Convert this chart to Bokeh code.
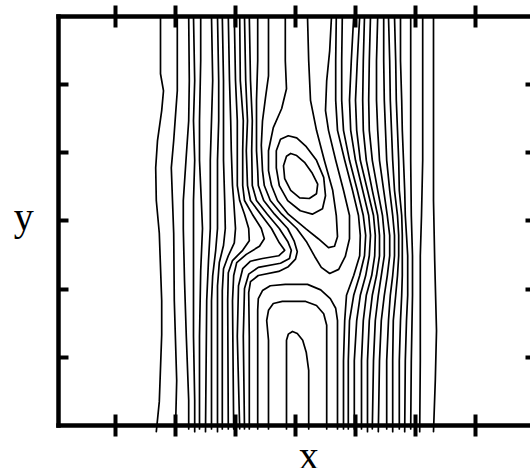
from bokeh.plotting import figure
from bokeh.models import Range1d, LinearAxis, FixedTicker
from bokeh.core.properties import value
from bokeh.embed import file_html
from bokeh.resources import INLINE

# Tick positions (no tick labels are printed) and axis names
x_ticks = [1, 2, 3, 4, 5, 6, 7]
y_ticks = [1, 2, 3, 4, 5]
x_name = "x"
y_name = "y"

# Isolines west of the eddy, running from the top edge to the bottom edge
west_lines = [
    [(1.75, 6.00), (1.75, 5.16), (1.80, 4.91), (1.77, 4.62), (1.70, 4.18), (1.67, 3.78), (1.68, 3.30), (1.73, 2.82), (1.77, 1.83), (1.77, 1.33), (1.73, 0.35), (1.68, -0.09)],
    [(2.03, 6.00), (2.03, 4.91), (2.00, 4.55), (1.97, 4.18), (1.93, 3.78), (1.95, 3.30), (1.97, 2.82), (1.98, 1.83), (2.02, 0.66), (2.00, -0.05)],
    [(2.22, 6.00), (2.23, 5.06), (2.22, 4.47), (2.18, 3.96), (2.13, 3.30), (2.13, 2.89), (2.15, 2.13), (2.18, 1.31), (2.22, 0.37), (2.22, -0.05)],
    [(2.30, 6.00), (2.32, 5.06), (2.30, 4.47), (2.32, 3.89), (2.30, 3.30), (2.30, 2.89), (2.30, 2.13), (2.30, 1.31), (2.32, 0.37), (2.32, -0.09)],
    [(2.42, 6.00), (2.42, 5.35), (2.40, 4.47), (2.40, 3.89), (2.43, 3.30), (2.45, 2.89), (2.42, 2.27), (2.40, 1.31), (2.40, -0.05)],
    [(2.60, 6.00), (2.62, 5.06), (2.60, 4.47), (2.58, 3.89), (2.58, 3.30), (2.58, 2.89), (2.55, 2.42), (2.52, 1.83), (2.50, -0.09)],
    [(2.70, 6.00), (2.72, 5.06), (2.72, 4.47), (2.70, 3.89), (2.70, 3.30), (2.70, 2.89), (2.67, 2.57), (2.62, 2.20), (2.60, 1.83), (2.60, -0.05)],
    [(2.78, 6.00), (2.80, 5.06), (2.80, 4.47), (2.80, 3.89), (2.82, 3.30), (2.83, 2.89), (2.80, 2.64), (2.73, 2.39), (2.70, 2.05), (2.70, -0.09)],
    [(2.88, 6.00), (2.90, 5.06), (2.92, 4.47), (2.93, 4.03), (2.95, 3.52), (2.97, 3.30), (3.00, 2.89), (2.98, 2.68), (2.88, 2.49), (2.80, 2.30), (2.78, 1.98), (2.78, -0.05)],
    [(2.98, 6.00), (3.00, 5.06), (3.03, 4.47), (3.03, 4.03), (3.03, 3.52), (3.07, 3.30), (3.15, 3.10), (3.22, 2.89), (3.23, 2.71), (3.12, 2.57), (2.95, 2.42), (2.88, 2.24), (2.87, 1.83), (2.88, -0.05)],
    [(3.07, 6.00), (3.08, 5.06), (3.13, 4.47), (3.12, 4.03), (3.12, 3.52), (3.15, 3.30), (3.28, 3.10), (3.43, 2.89), (3.48, 2.74), (3.40, 2.63), (3.18, 2.51), (3.02, 2.39), (2.97, 2.20), (2.95, 1.83), (2.97, -0.05)],
]

# Isolines folded into a tongue under the eddy
tongue_lines = [
    [(3.15, 6.00), (3.17, 5.06), (3.20, 4.47), (3.18, 4.03), (3.20, 3.52), (3.25, 3.30), (3.42, 3.10), (3.60, 2.89), (3.73, 2.68), (3.82, 2.57), (3.72, 2.49), (3.45, 2.45), (3.25, 2.41), (3.12, 2.30), (3.05, 2.05), (3.03, 1.31), (3.07, -0.05)],
    [(3.23, 6.00), (3.25, 5.06), (3.28, 4.47), (3.27, 4.03), (3.28, 3.52), (3.35, 3.30), (3.53, 3.10), (3.73, 2.89), (3.87, 2.70), (3.93, 2.57), (3.90, 2.45), (3.75, 2.38), (3.38, 2.32), (3.22, 2.22), (3.15, 2.01), (3.13, 1.31), (3.15, -0.05)],
    [(3.37, 6.00), (3.37, 5.35), (3.35, 4.77), (3.35, 4.40), (3.35, 4.03), (3.37, 3.74), (3.38, 3.52), (3.47, 3.30), (3.65, 3.10), (3.87, 2.89), (3.98, 2.70), (4.03, 2.55), (4.00, 2.44), (3.88, 2.33), (3.72, 2.26), (3.38, 2.20), (3.25, 2.11), (3.22, 1.95), (3.23, 1.31), (3.23, -0.05)],
]

# Isolines entering and leaving through the top edge, wrapped round the eddy
wrap_lines = [
    [(3.55, 6.00), (3.55, 5.13), (3.50, 4.81), (3.45, 4.47), (3.43, 4.11), (3.45, 3.74), (3.48, 3.52), (3.58, 3.30), (3.77, 3.10), (4.02, 2.89), (4.18, 2.70), (4.32, 2.48), (4.43, 2.32), (4.57, 2.23), (4.72, 2.29), (4.83, 2.48), (4.90, 2.74), (4.90, 3.08), (4.80, 3.45), (4.67, 3.89), (4.55, 4.33), (4.50, 4.62), (4.52, 5.06), (4.57, 5.50), (4.60, 6.00)],
    [(3.83, 6.00), (3.83, 5.35), (3.85, 4.94), (3.77, 4.65), (3.63, 4.37), (3.55, 4.03), (3.55, 3.74), (3.60, 3.52), (3.70, 3.30), (3.88, 3.10), (4.18, 2.88), (4.38, 2.74), (4.55, 2.61), (4.65, 2.63), (4.70, 2.77), (4.68, 3.08), (4.62, 3.45), (4.48, 3.89), (4.35, 4.33), (4.25, 4.77), (4.22, 5.35), (4.20, 6.00)],
]

# Closed isolines of the eddy core
core_loops = [
    [(3.88, 4.25), (4.02, 4.22), (4.18, 4.09), (4.35, 3.89), (4.47, 3.64), (4.50, 3.37), (4.45, 3.18), (4.28, 3.10), (4.08, 3.15), (3.87, 3.30), (3.73, 3.52), (3.68, 3.78), (3.68, 4.03), (3.75, 4.20), (3.88, 4.25)],
    [(3.92, 3.99), (4.02, 3.96), (4.15, 3.86), (4.28, 3.70), (4.37, 3.54), (4.35, 3.40), (4.23, 3.33), (4.07, 3.34), (3.92, 3.45), (3.82, 3.62), (3.80, 3.81), (3.85, 3.95), (3.92, 3.99)],
]

# Arches rising from the bottom edge
arch_lines = [
    [(3.37, -0.05), (3.37, 1.25), (3.37, 1.69), (3.38, 1.86), (3.45, 1.98), (3.58, 2.05), (3.83, 2.07), (4.20, 2.07), (4.42, 1.99), (4.58, 1.86), (4.67, 1.72), (4.70, 1.54), (4.70, 0.95), (4.70, -0.05)],
    [(3.55, -0.05), (3.55, 1.25), (3.52, 1.54), (3.55, 1.69), (3.63, 1.79), (3.78, 1.82), (4.17, 1.82), (4.35, 1.76), (4.47, 1.64), (4.52, 1.47), (4.52, 0.95), (4.52, -0.05)],
    [(3.85, -0.05), (3.85, 0.81), (3.85, 1.25), (3.88, 1.34), (3.95, 1.38), (4.03, 1.35), (4.12, 1.25), (4.18, 1.07), (4.22, 0.81), (4.22, -0.05)],
]

# Isolines east of the eddy, running from the top edge to the bottom edge
east_lines = [
    [(4.68, 6.00), (4.67, 5.35), (4.67, 4.77), (4.70, 4.33), (4.82, 3.89), (4.95, 3.45), (5.05, 3.08), (5.08, 2.79), (5.07, 2.49), (4.97, 2.20), (4.85, 1.91), (4.82, 1.54), (4.80, 0.95), (4.80, -0.05)],
    [(4.78, 6.00), (4.77, 5.35), (4.77, 4.77), (4.80, 4.33), (4.90, 3.89), (5.03, 3.45), (5.13, 3.08), (5.17, 2.79), (5.15, 2.49), (5.07, 2.20), (4.97, 1.91), (4.90, 1.54), (4.88, 0.95), (4.88, -0.05)],
    [(4.97, 6.00), (4.93, 5.35), (4.90, 4.77), (4.92, 4.33), (5.00, 3.89), (5.12, 3.45), (5.22, 3.08), (5.25, 2.79), (5.23, 2.49), (5.17, 2.20), (5.08, 1.91), (5.02, 1.54), (4.98, 0.95), (4.98, -0.05)],
    [(5.07, 6.00), (5.03, 5.35), (5.00, 4.77), (5.02, 4.33), (5.08, 3.89), (5.20, 3.45), (5.30, 3.08), (5.33, 2.79), (5.32, 2.49), (5.27, 2.20), (5.18, 1.91), (5.13, 1.54), (5.10, 0.95), (5.10, -0.05)],
    [(5.15, 6.00), (5.13, 5.35), (5.12, 4.77), (5.13, 4.33), (5.18, 3.89), (5.28, 3.45), (5.37, 3.08), (5.40, 2.79), (5.40, 2.49), (5.35, 2.20), (5.28, 1.91), (5.23, 1.54), (5.20, 0.95), (5.20, -0.09)],
    [(5.25, 6.00), (5.23, 5.35), (5.22, 4.77), (5.23, 4.33), (5.28, 3.89), (5.37, 3.45), (5.45, 3.08), (5.48, 2.79), (5.48, 2.49), (5.43, 2.20), (5.38, 1.91), (5.33, 1.54), (5.30, 0.95), (5.28, -0.05)],
    [(5.37, 6.00), (5.35, 5.35), (5.35, 4.77), (5.37, 4.33), (5.40, 3.89), (5.47, 3.45), (5.53, 3.08), (5.57, 2.79), (5.57, 2.49), (5.53, 2.20), (5.48, 1.91), (5.43, 1.54), (5.40, 0.95), (5.38, -0.09)],
    [(5.47, 6.00), (5.47, 5.35), (5.48, 4.77), (5.50, 4.33), (5.52, 3.89), (5.57, 3.45), (5.62, 3.08), (5.65, 2.79), (5.65, 2.49), (5.62, 2.20), (5.58, 1.91), (5.55, 1.54), (5.52, 0.95), (5.52, -0.05)],
    [(5.55, 6.00), (5.57, 5.35), (5.58, 4.77), (5.60, 4.33), (5.62, 3.89), (5.65, 3.45), (5.70, 3.08), (5.72, 2.79), (5.72, 2.49), (5.70, 2.20), (5.67, 1.91), (5.63, 1.54), (5.62, 0.95), (5.62, -0.09)],
    [(5.65, 6.00), (5.67, 5.35), (5.68, 4.77), (5.70, 4.33), (5.72, 3.89), (5.73, 3.45), (5.77, 3.08), (5.78, 2.79), (5.78, 2.49), (5.78, 2.20), (5.77, 1.91), (5.75, 1.54), (5.73, 0.95), (5.73, -0.05)],
    [(5.75, 6.00), (5.75, 5.35), (5.77, 4.77), (5.78, 4.33), (5.80, 3.89), (5.82, 3.45), (5.83, 3.08), (5.85, 2.79), (5.87, 2.49), (5.87, 2.20), (5.87, 1.91), (5.85, 1.54), (5.83, 0.95), (5.82, -0.09)],
    [(5.92, 6.00), (5.92, 4.77), (5.92, 3.89), (5.93, 3.08), (5.95, 2.49), (5.95, 1.91), (5.93, 0.95), (5.92, -0.05)],
    [(6.12, 6.00), (6.12, 4.77), (6.12, 3.89), (6.10, 3.08), (6.08, 2.49), (6.08, 1.83), (6.08, 0.95), (6.07, -0.09)],
    [(6.30, 6.00), (6.30, 4.77), (6.30, 3.30), (6.32, 2.42), (6.35, 1.39), (6.33, 0.66), (6.30, -0.09)],
]

# Plot box in data units: x from 0.05 to the window edge, y from 0 to 6
X_LO, X_HI = 0.05, 7.9167
Y_LO, Y_HI = 0.0, 6.0

# The frame fills the whole canvas; the box edges are drawn by axes fixed at the box limits
p = figure(
    width=530, height=468,
    x_range=Range1d(-0.9167, 7.9167), y_range=Range1d(-0.6308, 6.2345),
    x_axis_location=None, y_axis_location=None,
    output_backend="svg", toolbar_location=None,
    min_border=0,
)
p.outline_line_color = None
p.background_fill_color = "white"
p.border_fill_color = "white"
p.grid.visible = False
p.xgrid.visible = False
p.ygrid.visible = False

all_lines = west_lines + tongue_lines + wrap_lines + core_loops + arch_lines + east_lines
xs = [[pt[0] for pt in line] for line in all_lines]
ys = [[pt[1] for pt in line] for line in all_lines]
p.multi_line(xs, ys, line_color="black", line_width=1.7, line_join="round", line_cap="round")


def box_axis(location, fixed, bounds, ticks, tick_in, tick_out, show_line=True):
    ax = LinearAxis(fixed_location=fixed, bounds=bounds, ticker=FixedTicker(ticks=ticks))
    ax.major_label_text_color = None
    ax.minor_tick_line_color = None
    ax.major_tick_line_color = "black"
    ax.major_tick_line_width = 4
    ax.major_tick_in = tick_in
    ax.major_tick_out = tick_out
    ax.axis_line_color = "black" if show_line else None
    ax.axis_line_width = 4.5
    ax.axis_line_cap = "square"
    p.add_layout(ax, location)
    return ax


box_axis("below", Y_LO, (X_LO, X_HI), x_ticks, 11, 11)
box_axis("above", Y_HI, (X_LO, X_HI), x_ticks, 11, 11)
box_axis("left", X_LO, (Y_LO, Y_HI), y_ticks, 10, 0)
box_axis("right", X_HI, (Y_LO, Y_HI), y_ticks, 5, 0, show_line=False)

p.text(x=[4.22], y=[-0.44], text=[x_name], text_font=value("Liberation Serif"),
       text_font_size=value("40px"), text_align="center", text_baseline="alphabetic",
       text_color="black")
p.text(x=[-0.53], y=[3.07], text=[y_name], text_font=value("Liberation Serif"),
       text_font_size=value("40px"), text_align="center", text_baseline="alphabetic",
       text_color="black")

open("out.html", "w").write(file_html(p, INLINE))
